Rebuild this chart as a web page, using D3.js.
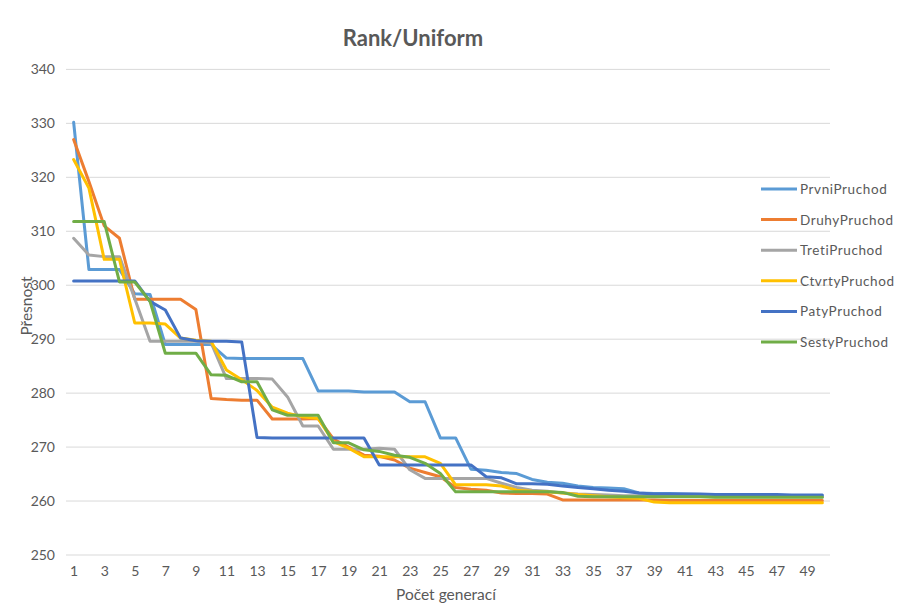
<!DOCTYPE html>
<html>
<head>
<meta charset="utf-8">
<script src="https://cdn.jsdelivr.net/npm/d3@7/dist/d3.min.js"></script>
<style>
  html, body { margin: 0; padding: 0; background: #fff; }
  svg { display: block; font-family: Lato, "Open Sans", "Liberation Sans", sans-serif; }
</style>
</head>
<body>
<svg id="chart" width="897" height="605"></svg>
<script>
// Generations 1..50
const generations = d3.range(1, 51);
const yTicks = [250, 260, 270, 280, 290, 300, 310, 320, 330, 340];

const seriesNames = ["PrvniPruchod", "DruhyPruchod", "TretiPruchod", "CtvrtyPruchod", "PatyPruchod", "SestyPruchod"];
const seriesColors = ["#5B9BD5", "#ED7D31", "#A5A5A5", "#FFC000", "#4472C4", "#70AD47"];

const prvni = [330.2, 302.9, 302.9, 302.9, 298.4, 298.3, 289.0, 289.0, 289.0, 289.0,
  286.5, 286.4, 286.4, 286.4, 286.4, 286.4, 280.4, 280.4, 280.4, 280.2,
  280.2, 280.2, 278.4, 278.4, 271.7, 271.7, 265.9, 265.7, 265.3, 265.1,
  264.0, 263.5, 263.3, 262.8, 262.5, 262.4, 262.3, 261.5, 261.4, 261.4,
  261.3, 261.2, 261.2, 261.1, 261.1, 261.0, 261.0, 260.9, 260.9, 260.9];

const druhy = [327.0, 319.2, 311.0, 308.7, 297.4, 297.4, 297.4, 297.4, 295.5, 279.0,
  278.8, 278.7, 278.7, 275.2, 275.2, 275.2, 275.3, 271.5, 270.0, 268.5,
  268.3, 267.6, 266.1, 265.3, 264.5, 262.5, 262.2, 262.0, 261.5, 261.4,
  261.4, 261.3, 260.2, 260.2, 260.2, 260.2, 260.2, 260.2, 260.2, 260.1,
  260.1, 260.1, 260.1, 260.1, 260.1, 260.1, 260.1, 260.1, 260.1, 260.1];

const treti = [308.7, 305.6, 305.3, 305.3, 297.5, 289.6, 289.6, 289.6, 289.6, 289.3,
  282.7, 282.7, 282.7, 282.6, 279.3, 273.9, 273.9, 269.6, 269.6, 269.6,
  269.8, 269.6, 265.8, 264.2, 264.2, 264.2, 264.2, 264.2, 263.3, 262.5,
  262.0, 261.8, 261.5, 261.3, 261.2, 261.1, 261.0, 261.0, 260.9, 260.9,
  260.9, 260.9, 260.8, 260.8, 260.8, 260.8, 260.8, 260.8, 260.8, 260.8];

const ctvrty = [323.3, 318.0, 304.8, 304.8, 293.0, 293.0, 292.8, 290.2, 289.8, 289.6,
  284.3, 282.5, 280.5, 277.4, 276.3, 275.6, 275.3, 271.0, 269.8, 268.2,
  268.2, 268.2, 268.2, 268.2, 267.0, 263.0, 263.0, 263.0, 262.8, 262.0,
  261.8, 261.7, 261.5, 261.2, 261.0, 260.8, 260.6, 260.5, 259.8, 259.7,
  259.7, 259.7, 259.7, 259.7, 259.7, 259.7, 259.7, 259.7, 259.7, 259.7];

const paty = [300.8, 300.8, 300.8, 300.8, 300.8, 297.0, 295.4, 290.2, 289.7, 289.6,
  289.6, 289.5, 271.8, 271.7, 271.7, 271.7, 271.7, 271.7, 271.7, 271.7,
  266.7, 266.7, 266.7, 266.7, 266.7, 266.7, 266.7, 264.5, 264.3, 263.2,
  263.2, 263.1, 262.8, 262.5, 262.3, 262.0, 261.8, 261.5, 261.3, 261.3,
  261.3, 261.3, 261.2, 261.2, 261.2, 261.2, 261.2, 261.1, 261.1, 261.1];

const sesty = [311.8, 311.8, 311.8, 300.6, 300.6, 297.0, 287.4, 287.4, 287.4, 283.4,
  283.3, 282.1, 282.1, 276.9, 275.9, 275.9, 275.9, 270.8, 270.8, 269.5,
  269.2, 268.5, 268.1, 267.0, 265.1, 261.7, 261.7, 261.7, 261.7, 261.7,
  261.7, 261.7, 261.6, 260.9, 260.8, 260.8, 260.8, 260.8, 260.8, 260.8,
  260.8, 260.8, 260.7, 260.7, 260.7, 260.7, 260.7, 260.7, 260.7, 260.7];

const seriesValues = [prvni, druhy, treti, ctvrty, paty, sesty];

const svg = d3.select("#chart");
const textColor = "#595959";
const gridColor = "#d9d9d9";

const plot = { left: 66, right: 830, top: 69.4, bottom: 555 };

const x = d3.scalePoint()
  .domain(generations)
  .range([plot.left, plot.right])
  .padding(0.5);

const y = d3.scaleLinear()
  .domain([250, 340])
  .range([plot.bottom, plot.top]);

// Title
svg.append("text")
  .attr("x", 413)
  .attr("y", 46)
  .attr("text-anchor", "middle")
  .attr("font-size", 22)
  .attr("font-weight", "bold")
  .attr("fill", textColor)
  .text("Rank/Uniform");

// Horizontal gridlines
svg.append("g")
  .selectAll("line")
  .data(yTicks)
  .join("line")
  .attr("x1", plot.left)
  .attr("x2", plot.right)
  .attr("y1", d => y(d))
  .attr("y2", d => y(d))
  .attr("stroke", gridColor)
  .attr("stroke-width", 1);

// Y axis labels
const yAxis = svg.append("g")
  .attr("transform", `translate(${plot.left},0)`)
  .call(d3.axisLeft(y).tickValues(yTicks).tickSize(0).tickPadding(11));
yAxis.select(".domain").remove();
yAxis.selectAll("text")
  .attr("font-size", 14)
  .attr("font-family", "Lato, 'Open Sans', sans-serif")
  .attr("fill", textColor);

// X axis labels (every other generation)
const xAxis = svg.append("g")
  .attr("transform", `translate(0,${plot.bottom})`)
  .call(d3.axisBottom(x).tickValues(generations.filter(d => d % 2 === 1)).tickSize(0).tickPadding(11));
xAxis.select(".domain").remove();
xAxis.selectAll("text")
  .attr("font-size", 14)
  .attr("font-family", "Lato, 'Open Sans', sans-serif")
  .attr("fill", textColor);

// Axis titles
svg.append("text")
  .attr("x", 446)
  .attr("y", 600)
  .attr("text-anchor", "middle")
  .attr("font-size", 15.5)
  .attr("fill", textColor)
  .text("Počet generací");

svg.append("text")
  .attr("transform", "translate(32,306) rotate(-90)")
  .attr("text-anchor", "middle")
  .attr("font-size", 15.5)
  .attr("fill", textColor)
  .text("Přesnost");

// Series lines
const line = d3.line()
  .x((d, i) => x(generations[i]))
  .y(d => y(d));

svg.append("g")
  .selectAll("path")
  .data(seriesValues)
  .join("path")
  .attr("d", d => line(d))
  .attr("fill", "none")
  .attr("stroke", (d, i) => seriesColors[i])
  .attr("stroke-width", 3)
  .attr("stroke-linejoin", "round")
  .attr("stroke-linecap", "round");

// Legend
const legend = svg.append("g");
const legendItems = legend.selectAll("g")
  .data(seriesNames)
  .join("g")
  .attr("transform", (d, i) => `translate(761,${189 + i * 30.6})`);
legendItems.append("line")
  .attr("x1", 0).attr("x2", 36)
  .attr("y1", 0).attr("y2", 0)
  .attr("stroke", (d, i) => seriesColors[i])
  .attr("stroke-width", 3);
legendItems.append("text")
  .attr("x", 39)
  .attr("y", 5)
  .attr("font-size", 13.5)
  .attr("letter-spacing", 0.6)
  .attr("fill", textColor)
  .text(d => d);
</script>
</body>
</html>
